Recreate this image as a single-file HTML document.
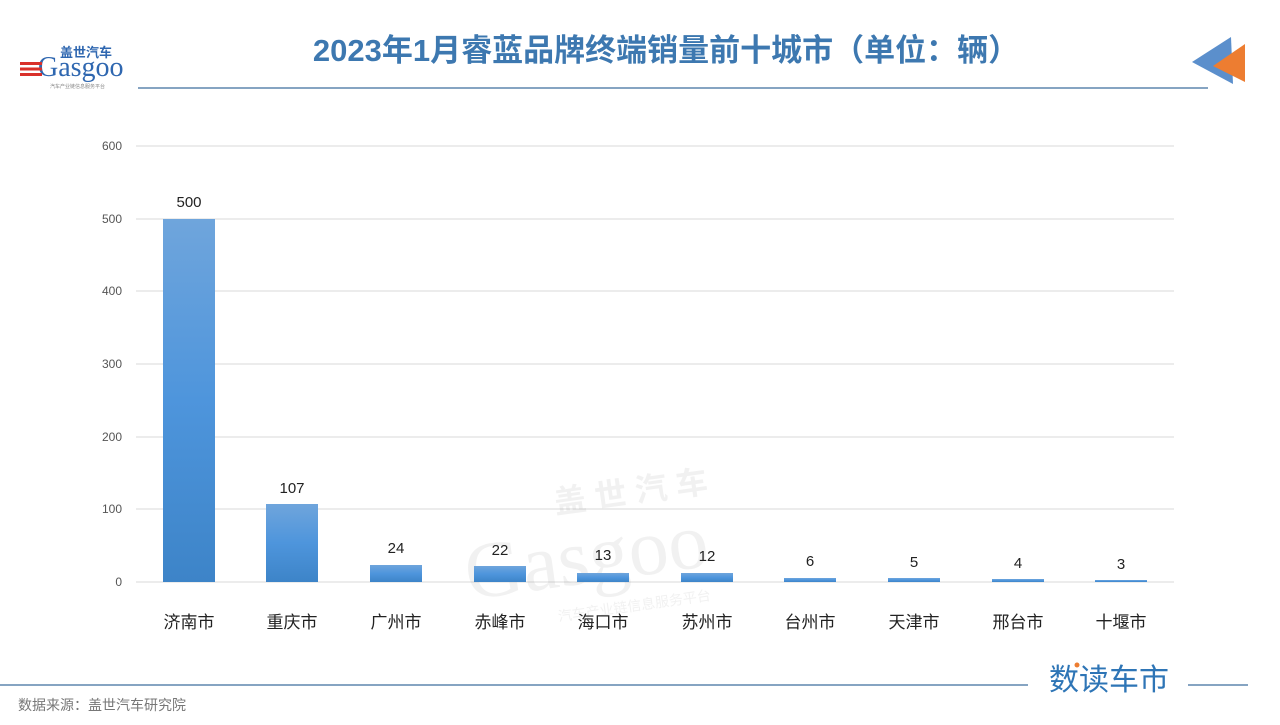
<!DOCTYPE html>
<html><head><meta charset="utf-8"><style>
body{margin:0;width:1280px;height:720px;background:#fff;overflow:hidden;font-family:"Liberation Sans","Noto Sans CJK SC",sans-serif}
svg text{font-family:"Liberation Sans","Noto Sans CJK SC",sans-serif}
</style></head><body>
<svg width="1280" height="720" xmlns="http://www.w3.org/2000/svg">
<defs><linearGradient id="g" x1="0" y1="0" x2="0" y2="1"><stop offset="0" stop-color="#6fa5dc"/><stop offset="0.5" stop-color="#4e95dc"/><stop offset="1" stop-color="#3d84c8"/></linearGradient></defs>
<text x="666" y="61" text-anchor="middle" font-size="31" font-weight="bold" fill="#3d78b0">2023年1月睿蓝品牌终端销量前十城市（单位：辆）</text>
<line x1="138" y1="88" x2="1208" y2="88" stroke="#3d6e9e" stroke-width="1.3"/>
<polygon points="1192,62 1231,37 1233,84" fill="#5b8fcc"/>
<polygon points="1213,66 1245,44 1245,82" fill="#ed7d31"/>
<text x="60" y="57" font-size="13" font-weight="bold" fill="#2f67b0">盖世汽车</text>
<text x="38" y="76" font-size="28" fill="#2f67b0" style="font-family:'Liberation Serif',serif">Gasgoo</text>
<rect x="20" y="62" width="22" height="3" fill="#d9302a"/><rect x="20" y="67.5" width="22" height="3" fill="#d9302a"/><rect x="20" y="73" width="22" height="3" fill="#d9302a"/>
<text x="50" y="88" font-size="5" fill="#888">汽车产业链信息服务平台</text>
<g stroke="#d9d9d9" stroke-width="1">
<line x1="136" y1="146" x2="1174" y2="146"/><line x1="136" y1="219" x2="1174" y2="219"/><line x1="136" y1="291" x2="1174" y2="291"/><line x1="136" y1="364" x2="1174" y2="364"/><line x1="136" y1="437" x2="1174" y2="437"/><line x1="136" y1="509" x2="1174" y2="509"/><line x1="136" y1="582" x2="1174" y2="582"/></g>
<g font-size="12" fill="#555" text-anchor="end">
<text x="122" y="150">600</text><text x="122" y="223">500</text><text x="122" y="295">400</text><text x="122" y="368">300</text><text x="122" y="441">200</text><text x="122" y="513">100</text><text x="122" y="586">0</text></g>
<g opacity="0.08" fill="#555" transform="rotate(-8 620 540)">
<text x="560" y="505" font-size="32" font-weight="bold">盖 世 汽 车</text>
<text x="462" y="578" font-size="80" style="font-family:'Liberation Serif',serif">Gasgoo</text>
<text x="548" y="612" font-size="14">汽车产业链信息服务平台</text></g>
<g fill="url(#g)">
<rect x="163" y="219" width="52" height="363"/><rect x="266" y="504" width="52" height="78"/><rect x="370" y="565" width="52" height="17"/><rect x="474" y="566" width="52" height="16"/><rect x="577" y="573" width="52" height="9"/><rect x="681" y="573" width="52" height="9"/><rect x="784" y="578" width="52" height="4"/><rect x="888" y="578" width="52" height="4"/><rect x="992" y="579" width="52" height="3"/><rect x="1095" y="580" width="52" height="2"/></g>
<g font-size="15" fill="#222" text-anchor="middle">
<text x="189" y="207">500</text><text x="292" y="493">107</text><text x="396" y="553">24</text><text x="500" y="555">22</text><text x="603" y="560">13</text><text x="707" y="561">12</text><text x="810" y="566">6</text><text x="914" y="567">5</text><text x="1018" y="568">4</text><text x="1121" y="569">3</text></g>
<g font-size="17" fill="#222" text-anchor="middle">
<text x="189" y="628">济南市</text><text x="292" y="628">重庆市</text><text x="396" y="628">广州市</text><text x="500" y="628">赤峰市</text><text x="603" y="628">海口市</text><text x="707" y="628">苏州市</text><text x="810" y="628">台州市</text><text x="914" y="628">天津市</text><text x="1018" y="628">邢台市</text><text x="1121" y="628">十堰市</text></g>
<line x1="0" y1="685" x2="1028" y2="685" stroke="#3d6e9e" stroke-width="1.3"/>
<line x1="1188" y1="685" x2="1248" y2="685" stroke="#3d6e9e" stroke-width="1.3"/>
<text x="1049" y="690" font-size="30" fill="#2e75b6">数读车市</text>
<circle cx="1077" cy="665" r="2.5" fill="#ed7d31"/>
<text x="18" y="710" font-size="14" fill="#777">数据来源：盖世汽车研究院</text>
</svg>
</body></html>
